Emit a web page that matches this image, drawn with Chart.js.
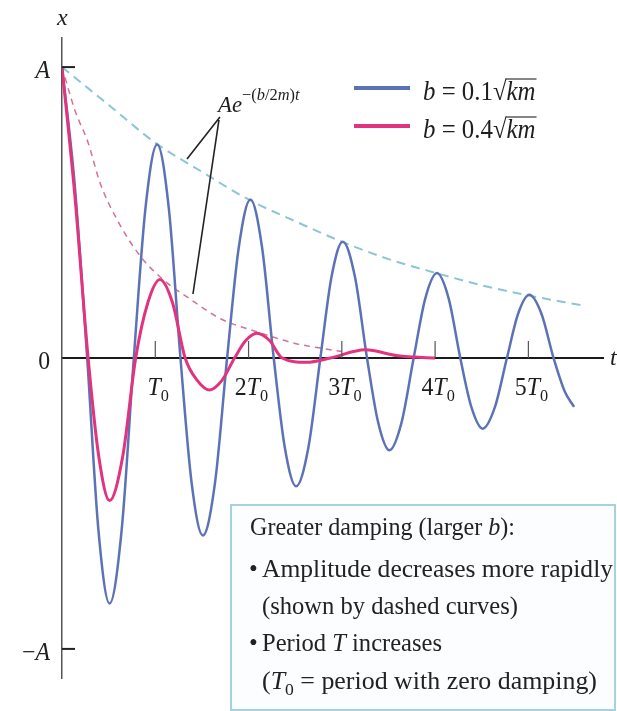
<!DOCTYPE html>
<html>
<head>
<meta charset="utf-8">
<title>Damped oscillations</title>
<script src="https://cdn.jsdelivr.net/npm/chart.js@4.4.1/dist/chart.umd.min.js"></script>
<style>
  html, body { margin: 0; padding: 0; background: #fff; }
  canvas { display: block; }
</style>
</head>
<body>
<canvas id="damping-chart" width="617" height="711"></canvas>
<script>
// time in units of T0, displacement in units of A
// b = 0.1 sqrt(km)
const lightT = [0, 0.135, 0.27, 0.39, 0.51, 0.64, 0.77, 0.895, 1.02, 1.145, 1.27, 1.39, 1.51, 1.64, 1.77, 1.895, 2.02, 2.145, 2.27,
  2.39, 2.51, 2.64, 2.77, 2.89, 3.01, 3.14, 3.27, 3.39, 3.51, 3.64, 3.77, 3.895, 4.02, 4.145, 4.27, 4.39, 4.51, 4.64, 4.77,
  4.89, 5.01, 5.14, 5.27, 5.39, 5.49];
const lightX = [1, 0.6, 0, -0.59, -0.844, -0.59, 0, 0.515, 0.734, 0.515, 0, -0.43, -0.61, -0.43, 0, 0.38, 0.545, 0.38, 0,
  -0.31, -0.441, -0.31, 0, 0.28, 0.40, 0.28, 0, -0.222, -0.317, -0.222, 0, 0.205, 0.292, 0.205, 0, -0.17, -0.243, -0.17, 0,
  0.152, 0.217, 0.152, 0, -0.115, -0.168];

// b = 0.4 sqrt(km)
const heavyT = [0, 0.14, 0.28, 0.395, 0.51, 0.65, 0.79, 0.92, 1.05, 1.185, 1.32, 1.45, 1.58, 1.715, 1.85, 1.97, 2.09, 2.225, 2.36, 2.62, 2.88, 3.25, 3.6, 4.0];
const heavyX = [1, 0.55, 0, -0.34, -0.49, -0.34, 0, 0.19, 0.27, 0.19, 0, -0.077, -0.11, -0.077, 0, 0.06, 0.085, 0.06, 0, -0.015, 0, 0.028, 0.008, 0];

// dashed envelopes A e^-(b/2m)t
const lightEnvT = [0, 0.5, 1, 1.5, 2, 2.5, 3, 3.5, 4, 4.5, 5, 5.56];
const lightEnvX = [1, 0.87, 0.74, 0.64, 0.545, 0.47, 0.40, 0.34, 0.293, 0.25, 0.215, 0.182];
const heavyEnvT = [0, 0.14, 0.28, 0.41, 0.59, 0.84, 1.12, 1.34, 1.7, 2.09, 2.5, 2.77, 3.0];
const heavyEnvX = [1, 0.85, 0.74, 0.6, 0.476, 0.35, 0.26, 0.21, 0.135, 0.09, 0.05, 0.034, 0.022];

// axis ticks
const tTicks = [1, 2, 3, 4, 5];
const tTickCoef = ['', '2', '3', '4', '5'];
const xTicks = [1, 0, -1];
const xTickNames = ['A', '0', '\u2212A'];

// legend
const legendCoef = ['0.1', '0.4'];

const BLUE = '#5c72b6';
const MAGENTA = '#e2337f';
const BLUE_ENV = '#8cc6d3';
const MAGENTA_ENV = '#d4709a';
const SERIF = '"Liberation Serif", "Times New Roman", serif';

const pts = (ts, xs) => ts.map((t, i) => ({ x: t, y: xs[i] }));

// draws a list of [text, style] runs; style may hold 'i', 'sub', 'sup'
function runs(ctx, x, y, list, size, sx, measureOnly, supScale) {
  ctx.save();
  ctx.translate(x, y);
  ctx.scale(sx, 1);
  let cx = 0;
  list.forEach(r => {
    const st = r[1] || '';
    let fs = size, dy = 0;
    if (st.includes('sub')) { fs = size * 0.68; dy = size * 0.22; }
    if (st.includes('sup')) { fs = size * (supScale || 0.62); dy = -size * 0.5; }
    ctx.font = (st.startsWith('i') ? 'italic ' : '') + fs + 'px ' + SERIF;
    if (!measureOnly) ctx.fillText(r[0], cx, dy);
    cx += ctx.measureText(r[0]).width;
  });
  ctx.restore();
  return cx * sx;
}

// text squeezed to a given width, like the condensed face of the figure
function fitRuns(ctx, x, y, list, size, width) {
  const w = runs(ctx, 0, 0, list, size, 1, true);
  return runs(ctx, x, y, list, size, width / w);
}

const overlay = {
  id: 'overlay',
  afterDraw(chart) {
    const ctx = chart.ctx;
    const xs = chart.scales.x, ys = chart.scales.y;
    const y0 = ys.getPixelForValue(0);
    const left = xs.left;
    ctx.save();
    ctx.fillStyle = '#1e1e1e';
    ctx.textBaseline = 'alphabetic';

    // t ticks above the axis
    ctx.strokeStyle = '#555';
    ctx.lineWidth = 1.2;
    tTicks.forEach((t, i) => {
      const px = xs.getPixelForValue(t);
      ctx.beginPath();
      ctx.moveTo(px, y0);
      ctx.lineTo(px, y0 - 17);
      ctx.stroke();
      const lab = [];
      if (tTickCoef[i]) lab.push([tTickCoef[i], '']);
      lab.push(['T', 'i'], ['0', 'sub']);
      const w = runs(ctx, 0, 0, lab, 26, 0.92, true);
      runs(ctx, px - w / 2 + 3, y0 + 37, lab, 26, 0.92);
    });

    // x ticks (A, -A) inside the axis
    ctx.strokeStyle = '#222';
    ctx.lineWidth = 2;
    xTicks.forEach((v, i) => {
      const py = ys.getPixelForValue(v);
      if (v !== 0) {
        ctx.beginPath();
        ctx.moveTo(left, py);
        ctx.lineTo(left + 13, py);
        ctx.stroke();
      }
      const name = xTickNames[i];
      let lab;
      if (name === 'A') lab = [['A', 'i']];
      else if (name === '0') lab = [['0', '']];
      else lab = [['\u2212', ''], ['A', 'i']];
      const w = runs(ctx, 0, 0, lab, 25, 0.95, true);
      runs(ctx, left - 12 - w, py + 11, lab, 25, 0.95);
    });

    // axis names
    runs(ctx, left - 5, 25, [['x', 'i']], 24, 1);
    runs(ctx, xs.right + 7, y0 + 7, [['t', 'i']], 24, 1);

    // legend
    const legendColors = [BLUE, MAGENTA];
    legendCoef.forEach((c, i) => {
      const ly = 88 + i * 38;
      ctx.strokeStyle = legendColors[i];
      ctx.lineWidth = 4;
      ctx.beginPath();
      ctx.moveTo(354, ly);
      ctx.lineTo(410, ly);
      ctx.stroke();
      ctx.fillStyle = '#1e1e1e';
      const head = [['b', 'i'], [' = ' + c, ''], ['\u221A', '']];
      const hw = runs(ctx, 423, ly + 12, head, 27, 0.92);
      const kw = runs(ctx, 423 + hw, ly + 12, [['km', 'i']], 27, 0.92);
      ctx.strokeStyle = '#333';
      ctx.lineWidth = 1.2;
      ctx.beginPath();
      ctx.moveTo(423 + hw - 1, ly - 9);
      ctx.lineTo(423 + hw + kw + 1, ly - 9);
      ctx.stroke();
    });

    // envelope annotation
    const ax = xs.getPixelForValue(1.672), ay = ys.getPixelForValue(0.846);
    ctx.fillStyle = '#1e1e1e';
    runs(ctx, ax, ay, [['A', 'i'], ['e', 'i'], ['\u2212(', 'sup'], ['b', 'isup'], ['/2', 'sup'], ['m', 'isup'], [')', 'sup'], ['t', 'isup']], 24, 0.95, false, 0.72);
    ctx.strokeStyle = '#222';
    ctx.lineWidth = 1.6;
    ctx.beginPath();
    ctx.moveTo(ax + 2, ay + 5);
    ctx.lineTo(xs.getPixelForValue(1.34), ys.getPixelForValue(0.684));
    ctx.moveTo(ax + 1, ay + 8);
    ctx.lineTo(xs.getPixelForValue(1.404), ys.getPixelForValue(0.22));
    ctx.stroke();

    // note box
    ctx.fillStyle = '#fbfdfe';
    ctx.fillRect(231, 505, 384, 206);
    ctx.strokeStyle = '#a6d2df';
    ctx.lineWidth = 2;
    ctx.strokeRect(231, 505, 384, 205);
    ctx.fillStyle = '#222';
    fitRuns(ctx, 250, 535, [['Greater damping (larger ', ''], ['b', 'i'], ['):', '']], 25, 265);
    runs(ctx, 249, 577, [['\u2022', '']], 25, 1);
    fitRuns(ctx, 262, 577, [['Amplitude decreases more rapidly', '']], 25, 351);
    fitRuns(ctx, 262, 614, [['(shown by dashed curves)', '']], 25, 256);
    runs(ctx, 249, 651, [['\u2022', '']], 25, 1);
    fitRuns(ctx, 262, 651, [['Period ', ''], ['T', 'i'], [' increases', '']], 25, 180);
    fitRuns(ctx, 262, 689, [['(', ''], ['T', 'i'], ['0', 'sub'], [' = period with zero damping)', '']], 25, 335);
    ctx.restore();
  }
};

new Chart(document.getElementById('damping-chart'), {
  type: 'line',
  data: {
    datasets: [
      {
        label: 'b = 0.4\u221Akm',
        data: pts(heavyT, heavyX),
        borderColor: MAGENTA,
        borderWidth: 3,
        pointRadius: 0,
        cubicInterpolationMode: 'monotone'
      },
      {
        label: 'b = 0.1\u221Akm',
        data: pts(lightT, lightX),
        borderColor: BLUE,
        borderWidth: 2.5,
        pointRadius: 0,
        cubicInterpolationMode: 'monotone'
      },
      {
        label: 'envelope b = 0.1\u221Akm',
        data: pts(lightEnvT, lightEnvX),
        borderColor: BLUE_ENV,
        borderWidth: 2,
        borderDash: [9, 6],
        pointRadius: 0,
        cubicInterpolationMode: 'monotone'
      },
      {
        label: 'envelope b = 0.4\u221Akm',
        data: pts(heavyEnvT, heavyEnvX),
        borderColor: MAGENTA_ENV,
        borderWidth: 1.5,
        borderDash: [6, 5],
        pointRadius: 0,
        cubicInterpolationMode: 'monotone'
      }
    ]
  },
  options: {
    responsive: false,
    animation: false,
    devicePixelRatio: 1,
    layout: { padding: { left: 62, right: 14, top: 38, bottom: 33 } },
    plugins: {
      legend: { display: false },
      tooltip: { enabled: false }
    },
    scales: {
      x: {
        type: 'linear',
        min: 0,
        max: 5.8,
        position: { y: 0 },
        grid: { display: false, drawTicks: false },
        border: { color: '#1a1a1a', width: 2 },
        ticks: { display: false }
      },
      y: {
        type: 'linear',
        min: -1.1,
        max: 1.1,
        grid: { display: false, drawTicks: false },
        border: { color: '#555', width: 1.5 },
        ticks: { display: false }
      }
    }
  },
  plugins: [overlay]
});
</script>
</body>
</html>
